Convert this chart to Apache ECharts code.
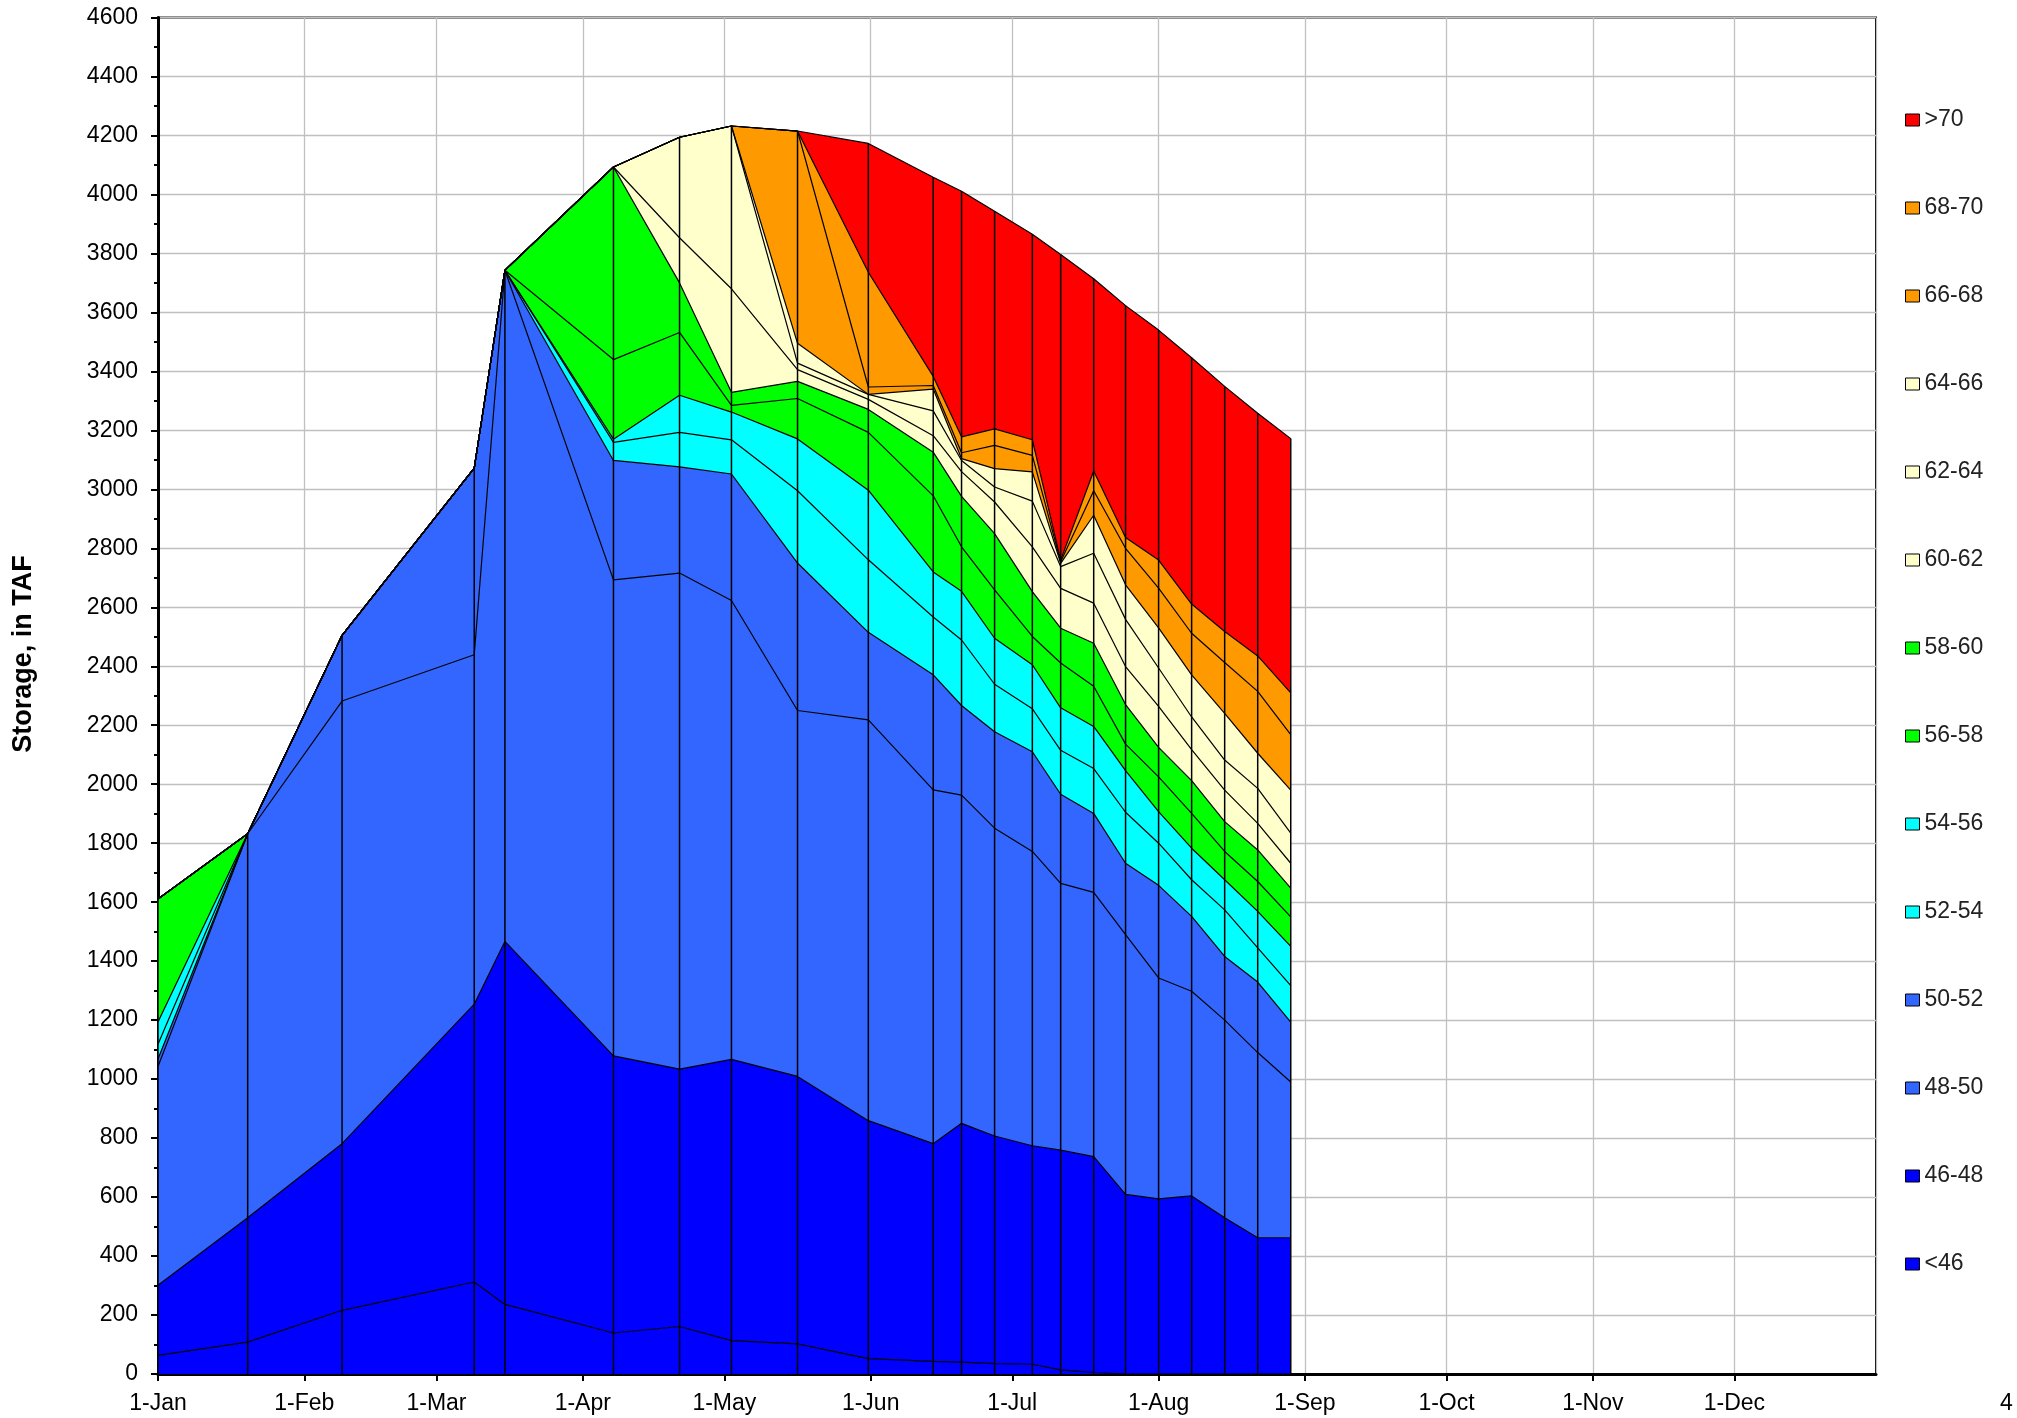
<!DOCTYPE html>
<html><head><meta charset="utf-8">
<script src="https://cdn.jsdelivr.net/npm/echarts@6/dist/echarts.min.js"></script>
<style>html,body{margin:0;padding:0;background:#fff}#c{width:2017px;height:1418px}</style>
</head><body><div id="c"></div>
<script>
// ---- data ----
const dates = ['2015-01-01','2015-01-20','2015-02-09','2015-03-09','2015-03-15 12:00','2015-04-07 12:00',
  '2015-04-21 12:00','2015-05-02 12:00','2015-05-16 12:00','2015-05-31 12:00','2015-06-14 06:00','2015-06-20 06:00',
  '2015-06-27 06:00','2015-07-05 06:00','2015-07-11 06:00','2015-07-18 06:00','2015-07-25','2015-08-01',
  '2015-08-08','2015-08-15','2015-08-22','2015-08-29'];
const bandNames = ['<46','46-48','48-50','50-52','52-54','54-56','56-58','58-60','60-62','62-64','64-66','66-68','68-70','>70'];
const band_lt46  = [63,108,216,312,236,139,161,113,102,52,43,40,35,33,14,5,0,0,0,0,0,0];
const band_46_48 = [238,422,565,942,1231,940,873,954,907,807,738,810,772,741,745,732,609,594,604,530,462,462];
const band_48_50 = [742,1302,1501,1185,2276,1614,1682,1556,1241,1359,1200,1113,1044,998,905,896,881,749,694,670,628,528];
const band_50_52 = [25,0,223,633,0,405,360,429,500,297,390,304,327,338,302,268,242,314,254,216,239,203];
const band_52_54 = [50,0,0,0,0,61,117,116,245,246,196,222,161,146,149,152,173,143,124,158,116,124];
const band_54_56 = [76,0,0,0,0,11,126,94,176,236,153,165,156,149,144,143,141,107,107,102,124,133];
const band_56_58 = [417,0,0,0,0,270,213,23,137,196,258,151,164,96,152,136,90,118,118,96,101,100];
const band_58_60 = [0,0,0,0,0,653,168,44,58,78,148,171,191,152,118,146,134,100,111,101,107,98];
const band_60_62 = [0,0,0,0,0,0,153,351,40,34,56,84,107,152,135,136,129,139,105,107,90,84];
const band_62_64 = [0,0,0,0,0,0,341,552,22,17,84,38,51,155,74,169,160,130,111,102,119,102];
const band_64_66 = [0,0,0,0,0,0,0,0,67,0,74,6,62,99,11,129,117,136,143,158,119,146];
const band_66_68 = [0,0,0,0,0,0,0,0,720,25,12,20,79,56,5,83,124,135,141,173,210,188];
const band_68_70 = [0,0,0,0,0,0,0,0,0,389,31,54,56,53,6,67,37,95,99,105,120,142];
const band_gt70  = [0,0,0,0,0,0,0,0,0,437,675,833,738,697,1036,652,786,780,835,831,823,862];
const yTicks = { min: 0, max: 4600, step: 200 };
const monthNames = ['Jan','Feb','Mar','Apr','May','Jun','Jul','Aug','Sep','Oct','Nov','Dec'];

// ---- styles ----
const bands = [band_lt46,band_46_48,band_48_50,band_50_52,band_52_54,band_54_56,band_56_58,band_58_60,
  band_60_62,band_62_64,band_64_66,band_66_68,band_68_70,band_gt70];
const colors = ['#0000FF','#0000FF','#3366FF','#3366FF','#00FFFF','#00FFFF','#00FF00','#00FF00',
  '#FFFFCC','#FFFFCC','#FFFFCC','#FF9900','#FF9900','#FF0000'];
const FONT = '"Liberation Sans", Arial, sans-serif';

const totals = dates.map((_, i) => bands.reduce((s, b) => s + b[i], 0));

const series = [];
bands.forEach((vals, k) => {
  series.push({
    type: 'line', name: bandNames[k], stack: 'area', data: dates.map((d, i) => [d, vals[i]]),
    symbol: 'none', showSymbol: false, lineStyle: { width: 0 },
    itemStyle: { color: colors[k] }, areaStyle: { color: colors[k], opacity: 1 }, z: 2, silent: true
  });
});
bands.forEach((vals, k) => {
  series.push({
    type: 'line', name: 'line ' + bandNames[k], stack: 'lines', data: dates.map((d, i) => [d, vals[i]]),
    symbol: 'none', showSymbol: false, lineStyle: { width: 1.2, color: '#000' },
    itemStyle: { color: '#000' }, z: 3, silent: true
  });
});
series.push({
  type: 'custom', name: 'drops', data: dates.map((d, i) => [d, totals[i]]), z: 4, silent: true,
  encode: { x: 0, y: 1 },
  renderItem: (params, api) => {
    const p0 = api.coord([api.value(0), 0]);
    const p1 = api.coord([api.value(0), api.value(1)]);
    return { type: 'line', shape: { x1: p0[0], y1: p0[1], x2: p1[0], y2: p1[1] },
      style: { stroke: '#000', lineWidth: 1.5 } };
  }
});

const chart = echarts.init(document.getElementById('c'), null, { renderer: 'canvas' });
chart.setOption({
  animation: false,
  backgroundColor: '#fff',
  grid: { left: 158, right: 141, top: 17.5, bottom: 44, show: true, borderColor: '#000', borderWidth: 2, backgroundColor: 'transparent' },
  legend: {
    data: bandNames.slice().reverse(), orient: 'vertical', left: 1900, top: 103,
    icon: 'rect', itemWidth: 14, itemHeight: 12, itemGap: 64, selectedMode: false,
    itemStyle: { borderColor: '#000', borderWidth: 1 },
    textStyle: { fontFamily: FONT, fontSize: 23, color: '#222', lineHeight: 24, padding: [0, 0, 0, 0] }
  },
  xAxis: {
    type: 'time', min: '2015-01-01', max: '2015-12-31', splitNumber: 12,
    minInterval: 28 * 86400000, maxInterval: 31 * 86400000,
    axisLine: { show: true, lineStyle: { color: '#000', width: 3 } },
    axisTick: { show: true, length: 7, lineStyle: { color: '#000', width: 2 } },
    splitLine: { show: true, lineStyle: { color: '#C0C0C0', width: 1.3 } },
    axisLabel: {
      fontFamily: FONT, fontSize: 23, color: '#000', margin: 18, hideOverlap: false,
      formatter: (v) => { const d = new Date(v); return d.getDate() + '-' + monthNames[d.getMonth()]; }
    }
  },
  yAxis: {
    type: 'value', min: yTicks.min, max: yTicks.max, interval: yTicks.step,
    axisLine: { show: true, lineStyle: { color: '#000', width: 3 } },
    axisTick: { show: true, length: 7, lineStyle: { color: '#000', width: 2 } },
    minorTick: { show: true, splitNumber: 2, length: 4, lineStyle: { color: '#000', width: 2 } },
    splitLine: { show: true, lineStyle: { color: '#C0C0C0', width: 1.3 } },
    axisLabel: { fontFamily: FONT, fontSize: 23, color: '#000', margin: 20, formatter: (v) => String(v) }
  },
  graphic: [
    { type: 'text', x: 24, y: 654, rotation: Math.PI / 2,
      style: { text: 'Storage, in TAF', fontFamily: FONT, fontSize: 27, fontWeight: 'bold', fill: '#000', align: 'center', verticalAlign: 'middle' } },
    { type: 'text', x: 2000, y: 1404,
      style: { text: '4', fontFamily: FONT, fontSize: 23, fill: '#000', align: 'left', verticalAlign: 'middle' } }
  ],
  series: series
});
</script></body></html>
